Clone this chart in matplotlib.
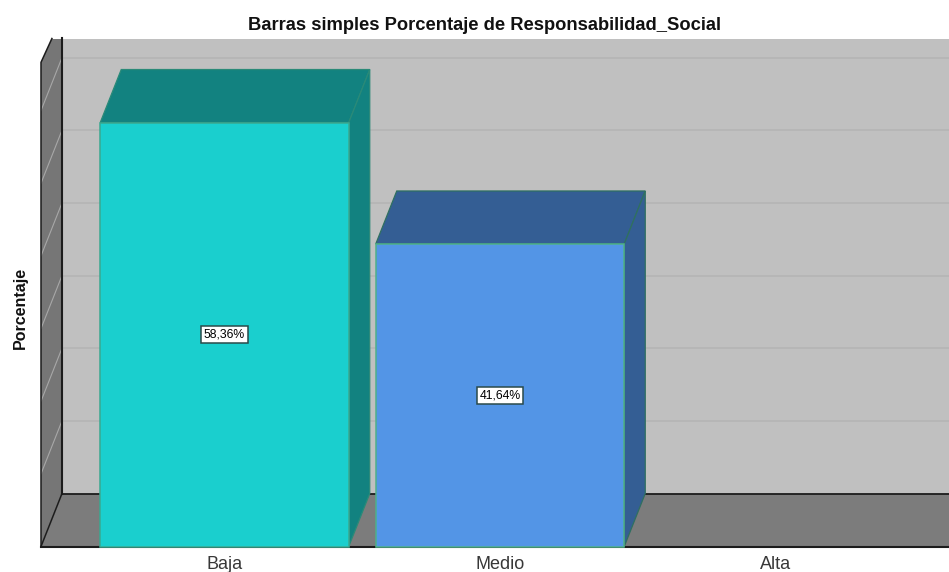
import matplotlib
matplotlib.use("Agg")
import matplotlib.pyplot as plt
from matplotlib.patches import Polygon, Rectangle

categories = ["Baja", "Medio", "Alta"]
percentages = [58.36, 41.64, 0.0]
value_labels = ["58,36%", "41,64%", ""]
gridline_values = [10, 20, 30, 40, 50, 60]
title_text = "Barras simples Porcentaje de Responsabilidad_Social"
ylabel_text = "Porcentaje"

W, H = 949, 572
plt.rcParams["font.family"] = ["Liberation Sans", "DejaVu Sans"]
fig = plt.figure(figsize=(W / 100, H / 100), dpi=100, facecolor="white")
L, R, T, B = 41, 949, 38.5, 546.5
ax = fig.add_axes([L / W, 1 - B / H, (R - L) / W, (B - T) / H])
ppx = 275.5
ppy = 7.265
ax.set_xlim((L - 224.5) / ppx, (R - 224.5) / ppx)
ax.set_ylim(0, (B - T) / ppy)
for s in ax.spines.values():
    s.set_visible(False)
ax.set_yticks([])
ax.set_xticks(range(len(categories)))
ax.set_xticklabels(categories, fontsize=13, color="#383838")
ax.tick_params(axis="x", length=0, pad=6.5)

dx, dy = 21 / ppx, 53 / ppy
x0, x1 = ax.get_xlim()
ytop = ax.get_ylim()[1]
xw = x0 + dx

ax.add_patch(Rectangle((xw, dy), x1 - xw, ytop - dy, fc="#c0c0c0", ec="none", zorder=1))
ax.add_patch(Polygon([(x0, 0), (x1, 0), (x1, dy), (xw, dy)], fc="#7c7c7c", ec="none", zorder=1))
ax.add_patch(Polygon([(x0, 0), (xw, dy), (xw, ytop), (x0 + dx * 0.52, ytop), (x0, ytop - dy * 0.45)],
                     fc="#767676", ec="none", zorder=1))
for g in gridline_values:
    ax.plot([xw, x1], [g + dy, g + dy], color="#b4b4b4", lw=1.2, zorder=2, solid_capstyle="butt")
    ax.plot([x0, xw], [g, g + dy], color="#a8a8a8", lw=0.8, zorder=2)
line = dict(color="#1c1c1c", zorder=3, clip_on=False)
ax.plot([xw, x1], [dy, dy], lw=1.3, **line)
ax.plot([x0, x1], [0, 0], lw=1.5, **line)
ax.plot([xw, xw], [dy, ytop], lw=1.5, **line)
ax.plot([x0, xw], [0, dy], lw=1.1, **line)
ax.plot([x0, x0, x0 + dx * 0.52], [0, ytop - dy * 0.45, ytop], lw=1.1, **line)

face = ["#1acfce", "#5395e6", "#808080"]
top = ["#128280", "#345e94", "#808080"]
edge = ["#3aa890", "#4fb08a", "#808080"]
edge_dark = ["#2a8a78", "#2f7060", "#808080"]
bw = 248.5 / ppx
for i, v in enumerate(percentages):
    if v <= 0:
        continue
    a, b = i - bw / 2, i + bw / 2
    ax.add_patch(Polygon([(a, v), (b, v), (b + dx, v + dy), (a + dx, v + dy)],
                         fc=top[i], ec=edge_dark[i], lw=0.9, zorder=4))
    ax.add_patch(Polygon([(b, 0), (b + dx, dy), (b + dx, v + dy), (b, v)],
                         fc=top[i], ec=edge_dark[i], lw=0.9, zorder=4))
    ax.add_patch(Rectangle((a, 0), bw, v, fc=face[i], ec=edge[i], lw=1.1, zorder=5, clip_on=False))
    ax.text(i, v / 2, value_labels[i], ha="center", va="center", fontsize=8.8, color="black", zorder=6,
            bbox=dict(boxstyle="square,pad=0.22", fc="white", ec="#2a4a4a", lw=1.1))

fig.text(484 / W, 1 - 25.5 / H, title_text, ha="center", va="center", fontsize=13.2, fontweight="bold", color="#111111")
fig.text(20 / W, 1 - 308 / H, ylabel_text, ha="center", va="center", rotation=90, fontsize=11.5,
         fontweight="bold", color="#111111")
fig.savefig("out.png", dpi=100, facecolor="white")
